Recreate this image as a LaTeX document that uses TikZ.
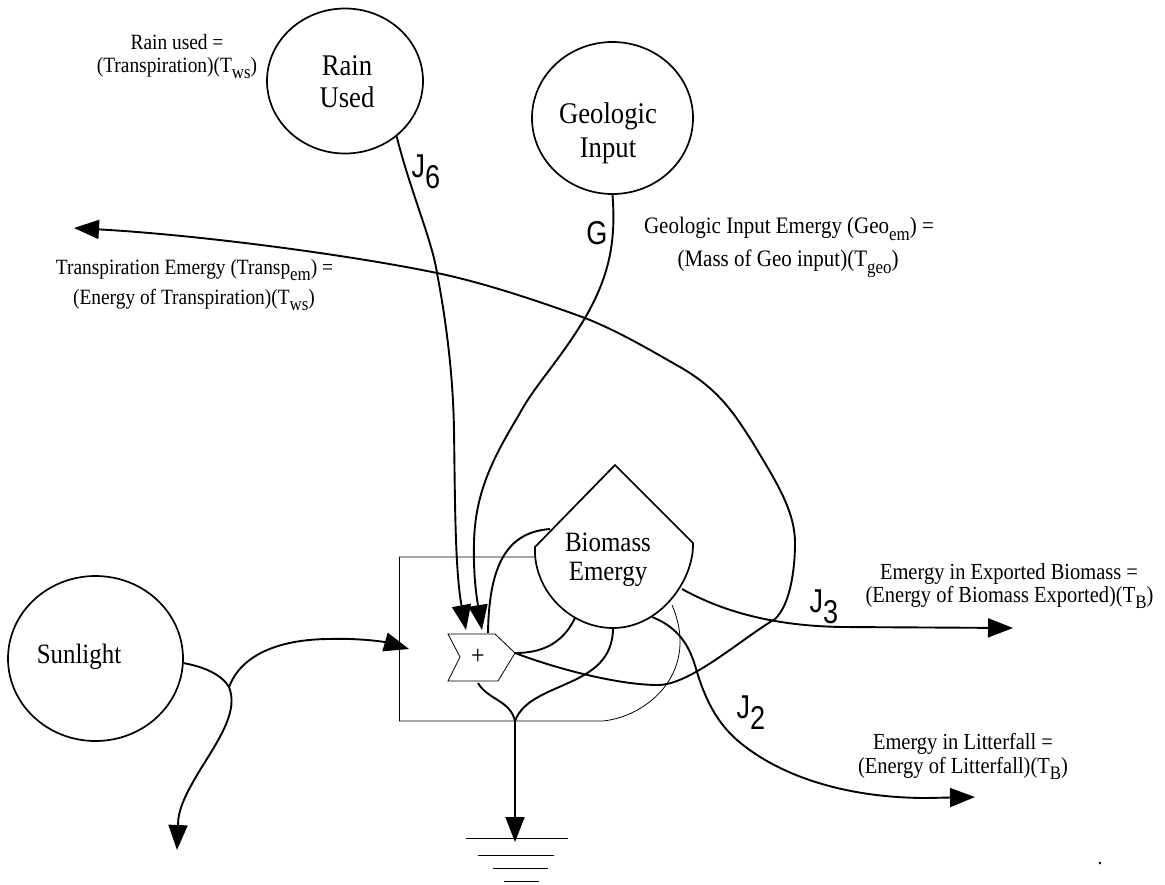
\documentclass[tikz,border=0pt]{standalone}
\usepackage{fontspec}
\setmainfont[FakeStretch=0.89]{Liberation Serif}
\newfontfamily\helv[FakeStretch=0.82]{Liberation Sans}
\usetikzlibrary{arrows.meta,shapes.geometric}
\newcommand{\lowsub}[1]{\raisebox{-0.3em}{\fontsize{19}{19}\selectfont #1}}
\newcommand{\jsub}[1]{\raisebox{-0.36em}{\fontsize{33}{33}\selectfont #1}}
\tikzset{
  src/.style={draw,ellipse,line width=1.7pt,inner sep=0pt},
  big/.style={font=\fontsize{30}{30}\selectfont,anchor=base,inner sep=0pt},
  mid/.style={font=\fontsize{28}{28}\selectfont,anchor=base,inner sep=0pt},
  lab/.style={font=\fontsize{21.8}{21.8}\selectfont,anchor=base,inner sep=0pt},
  labw/.style={font=\fontsize{23}{23}\selectfont,anchor=base,inner sep=0pt},
  labg/.style={font=\fontsize{23.6}{23.6}\selectfont,anchor=base,inner sep=0pt},
  jlab/.style={font=\helv\fontsize{33}{33}\selectfont,anchor=base,inner sep=0pt},
  flow/.style={line width=1.9pt},
  flowa/.style={line width=1.9pt,-{Triangle[length=25pt,width=19pt]}},
  thin box/.style={line width=0.8pt},
}
\begin{document}
\begin{tikzpicture}[x=1pt,y=-1pt]
\useasboundingbox (0,0) rectangle (1165,884);
% sources
\node[src,minimum width=156pt,minimum height=145pt] (rain) at (345,81) {};
\node[src,minimum width=161pt,minimum height=152pt] (geo) at (612.5,118) {};
\node[src,minimum width=175pt,minimum height=165pt] (sun) at (95.5,658.5) {};
\node[big] (rain1) at (347,75) {Rain};
\node[big] (rain2) at (347,107) {Used};
\node[big] (geo1) at (608,123) {Geologic};
\node[big] (geo2) at (608,157) {Input};
\node[mid] (sunt) at (79,663) {Sunlight};
% tank coordinates
\coordinate (tl) at (535,547);
\coordinate (tt) at (615,465);
\coordinate (tr) at (693,543);
\coordinate (tb) at (613,628);
\coordinate (tfl) at (550,529);
\coordinate (tpl) at (575,618);
\coordinate (tlit) at (652,617);
\coordinate (texp) at (682,589);
\coordinate (tthin) at (672,605);
% plus block coordinates
\coordinate (p1) at (448,634);
\coordinate (p2) at (495,634);
\coordinate (ptip) at (515,653);
\coordinate (p4) at (498,681);
\coordinate (p5) at (448,681);
\coordinate (p6) at (460,657);
\coordinate (pa) at (466,630);
\coordinate (pb) at (482,630);
\coordinate (pc) at (488,633);
\coordinate (pd) at (478,683);
% box
\coordinate (bxa) at (535,557);
\coordinate (bxb) at (399.5,557);
\coordinate (bxc) at (399.5,721);
\coordinate (bxd) at (603,721);
\coordinate (jn) at (515,721);
\draw[thin box] (bxa) -- (bxb) -- (bxc) -- (bxd)
  .. controls (650,716) and (700,670) .. (tthin);
% tank
\draw[line width=1.7pt,fill=white] (tl) -- (tt) -- (tr)
  .. controls (694,580) and (660,628) .. (tb)
  .. controls (570,628) and (533,590) .. (tl) -- cycle;
\node[mid] (bio1) at (608,551) {Biomass};
\node[mid] (bio2) at (608,580) {Emergy};
% plus
\draw[line width=0.8pt,fill=white] (p1) -- (p2) -- (ptip) -- (p4) -- (p5) -- (p6) -- cycle;
\node[font=\fontsize{27}{27}\selectfont,inner sep=0pt] (plus) at (478,657) {+};
% connectors
\draw[flowa] (rain.-47) .. controls (410,190) and (432,240) .. (437,273)
  .. controls (445,315) and (453,370) .. (454,430)
  .. controls (455,500) and (455,570) .. (pa);
\draw[flowa] (geo.-90) .. controls (616,240) and (610,275) .. (585,318)
  .. controls (560,360) and (535,385) .. (520,413)
  .. controls (495,455) and (475,490) .. (474,543)
  .. controls (473,580) and (478,605) .. (pb);
\draw[flowa] (ptip) .. controls (560,670) and (620,685) .. (658,685)
  .. controls (690,685) and (740,640) .. (775,619)
  .. controls (790,605) and (795,570) .. (795,543)
  .. controls (795,510) and (775,480) .. (753,443)
  .. controls (735,415) and (720,390) .. (680,367)
  .. controls (650,350) and (620,332) .. (585,318)
  .. controls (530,298) and (480,282) .. (437,273)
  .. controls (350,255) and (200,235) .. (74,228);
\draw[flow] (tfl) .. controls (510,532) and (489,560) .. (pc);
\draw[flow] (tpl) .. controls (562,645) and (540,653) .. (ptip);
\draw[flow] (tb) .. controls (613,690) and (530,680) .. (jn);
\draw[flow] (pd) .. controls (488,700) and (510,700) .. (jn);
\draw[flowa] (jn) -- (515,842);
\draw[flowa] (tlit) .. controls (685,630) and (692,655) .. (697,672)
  .. controls (707,705) and (720,725) .. (737,740)
  .. controls (775,773) and (840,798) .. (927,798) -- (975,797);
\draw[flowa] (texp) .. controls (720,610) and (770,626) .. (843,627) -- (1013,628);
\coordinate (sj) at (229,687);
\draw[flow] (sun.-3) .. controls (205,667) and (222,675) .. (sj);
\draw[flowa] (sj) .. controls (245,645) and (300,639) .. (330,639) .. controls (360,638) and (385,642) .. (409,649);
\draw[flowa] (sj) .. controls (238,710) and (222,735) .. (200,770)
  .. controls (185,795) and (178,810) .. (178,825) -- (177,850);
% ground
\draw[thin box] (466,838) -- (568,838);
\draw[thin box] (478,855) -- (554,855);
\draw[thin box] (493,868) -- (548,868);
\draw[thin box] (504,881) -- (539,881);
% labels
\node[lab] (l1) at (177,49) {Rain used =};
\node[lab] (l2) at (177,72) {(Transpiration)(T\lowsub{ws})};
\node[lab] (l3) at (194.5,274) {Transpiration Emergy (Transp\lowsub{em}) =};
\node[lab] (l4) at (194,304) {(Energy of Transpiration)(T\lowsub{ws})};
\node[labg] (l5) at (789,233) {Geologic Input Emergy (Geo\lowsub{em}) =};
\node[labg] (l6) at (788,266) {(Mass of Geo input)(T\lowsub{geo})};
\node[labw] (l7) at (1009,579) {Emergy in Exported Biomass =};
\node[labw] (l8) at (1009.5,602) {(Energy of Biomass Exported)(T\lowsub{B})};
\node[labw] (l9) at (963,749) {Emergy in Litterfall =};
\node[labw] (l10) at (963,773) {(Energy of Litterfall)(T\lowsub{B})};
\node[jlab] (j6) at (426,177) {J\jsub{6}};
\node[jlab] (j3) at (824,612) {J\jsub{3}};
\node[jlab] (j2) at (751,718) {J\jsub{2}};
\node[jlab] (g) at (597,244) {G};
\node[lab] (dot) at (1100,864) {.};
\end{tikzpicture}
\end{document}
